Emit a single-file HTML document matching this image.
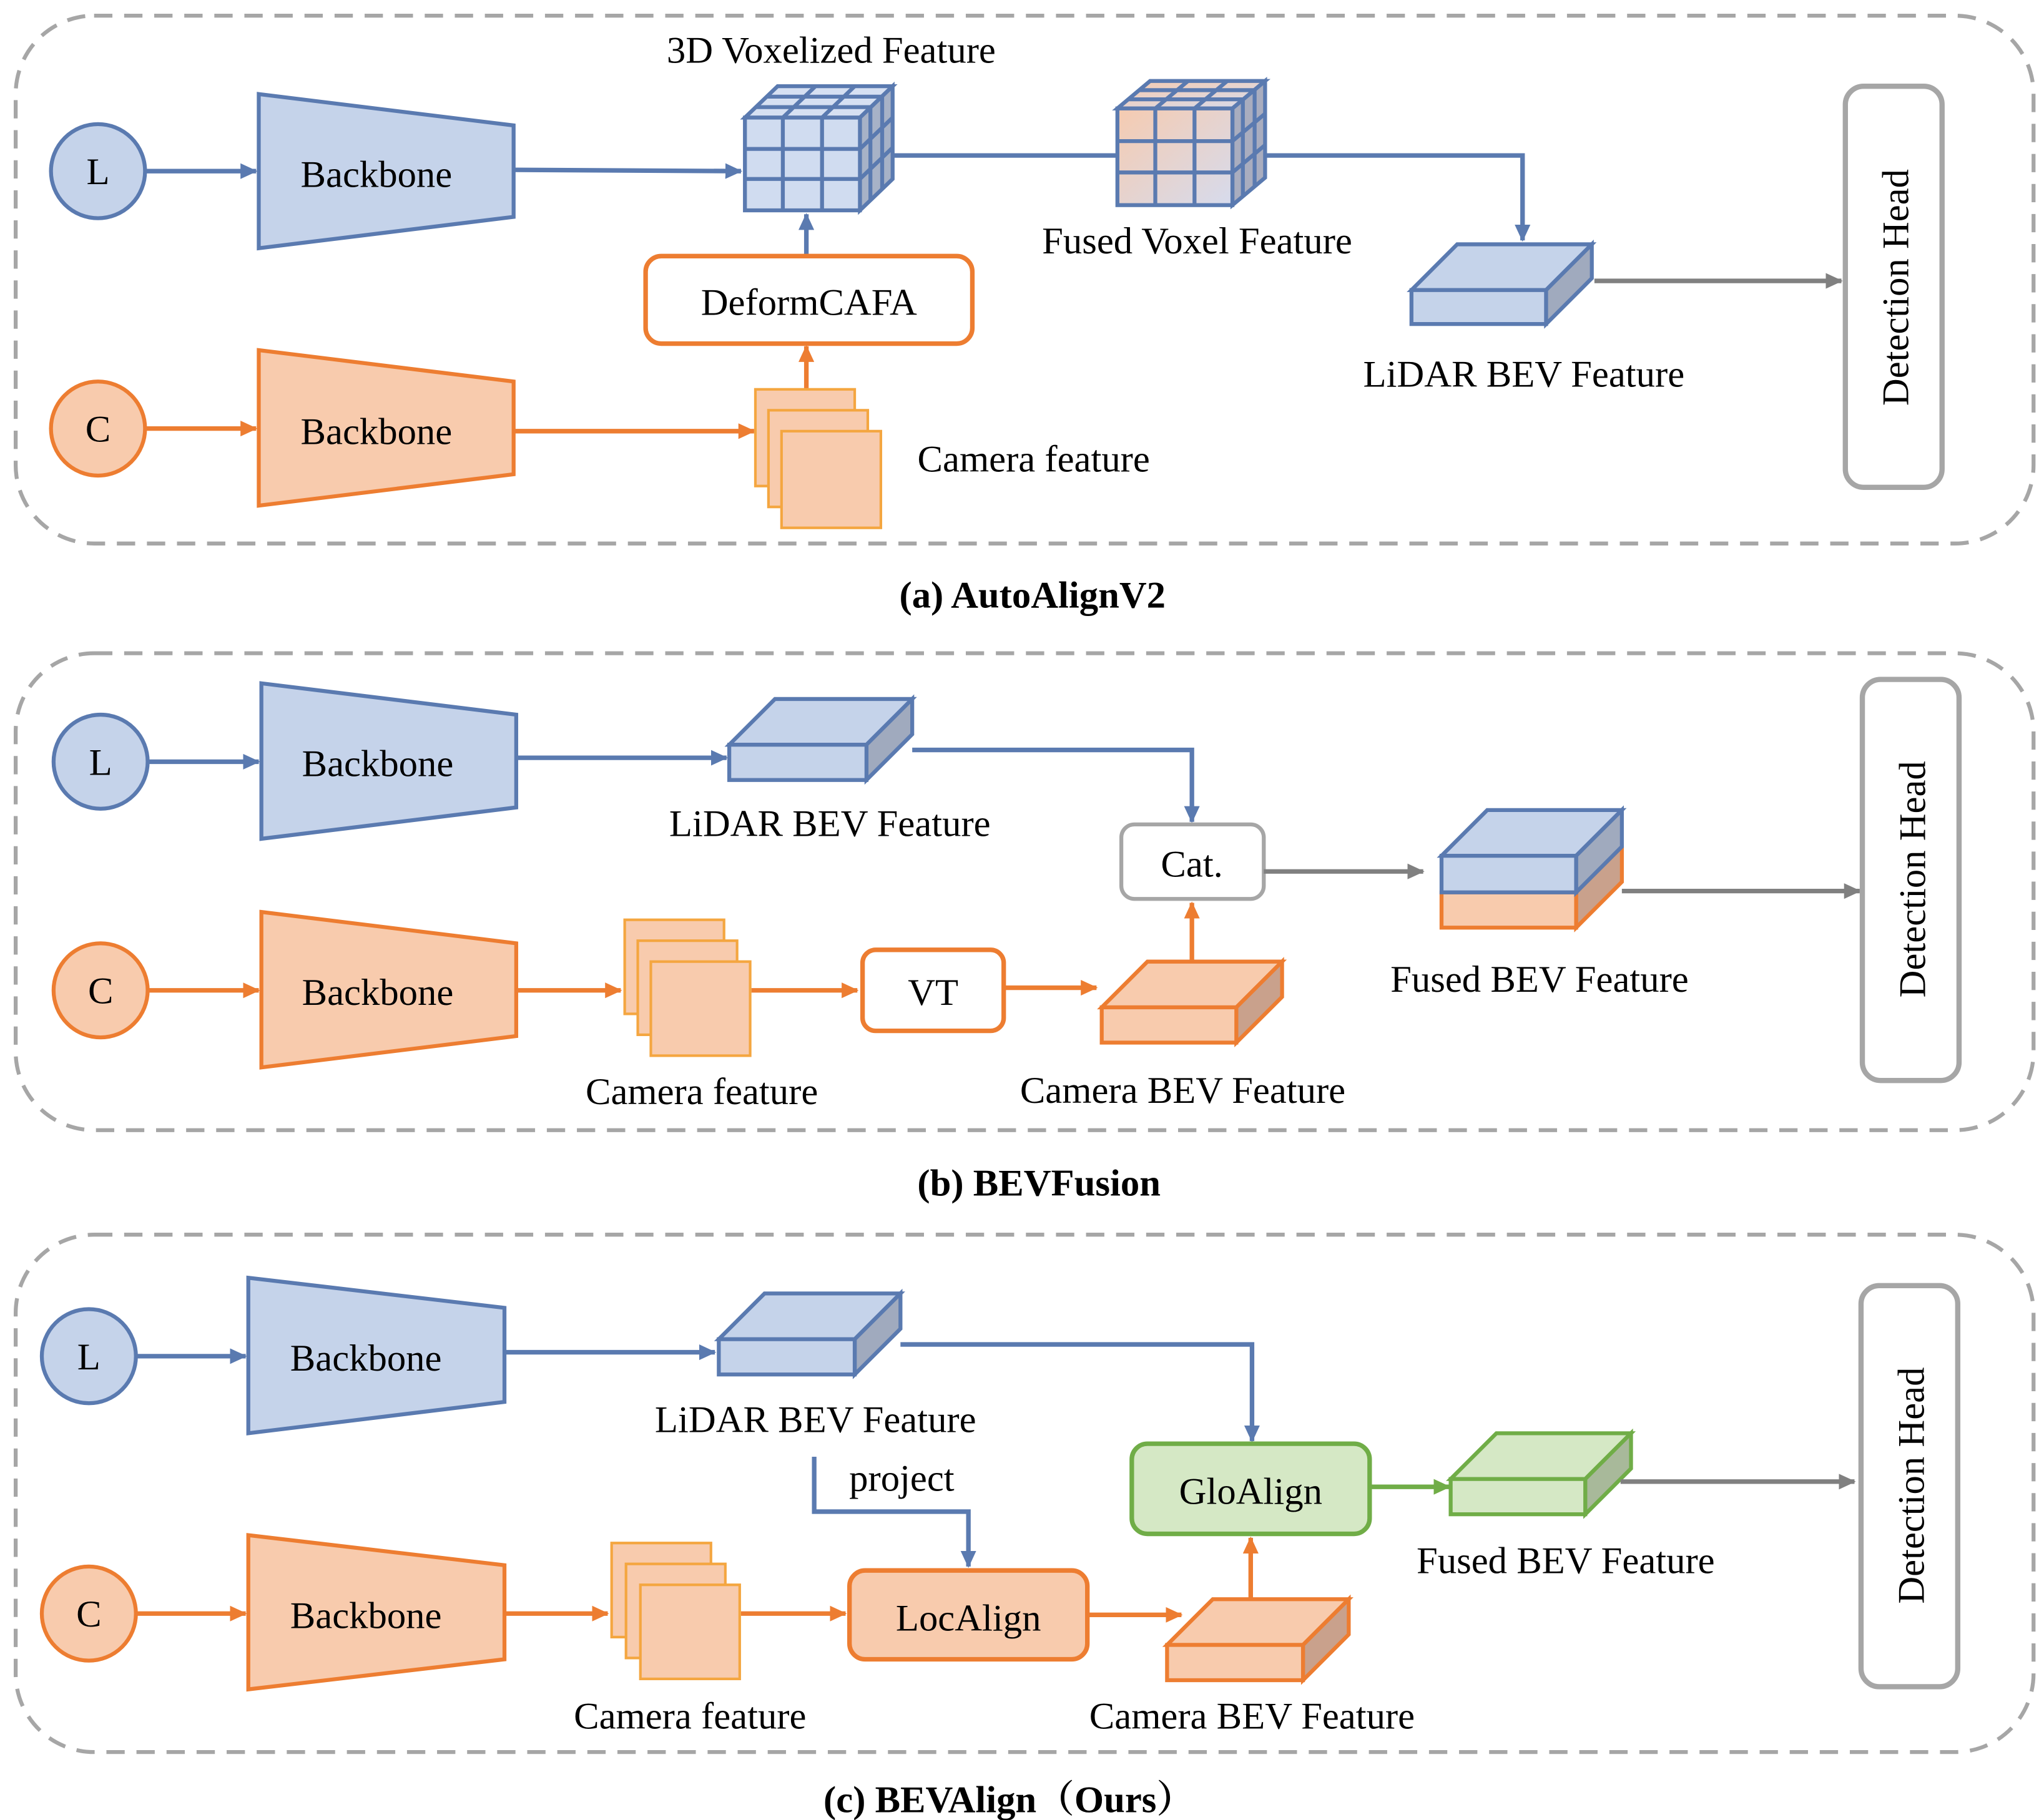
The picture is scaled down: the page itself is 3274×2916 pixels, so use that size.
<!DOCTYPE html>
<html><head><meta charset="utf-8"><style>
html,body{margin:0;padding:0;background:#fff;}
svg{display:block;}
</style></head><body>
<svg width="3274" height="2916" viewBox="0 0 1564 1393" preserveAspectRatio="none" xmlns="http://www.w3.org/2000/svg">
<defs>
<marker id="ab" markerWidth="13" markerHeight="12" refX="12" refY="6" orient="auto" markerUnits="userSpaceOnUse" viewBox="0 0 13 12"><path d="M0,0 L13,6 L0,12 z" fill="#5a7ab0"/></marker>
<marker id="ao" markerWidth="13" markerHeight="12" refX="12" refY="6" orient="auto" markerUnits="userSpaceOnUse" viewBox="0 0 13 12"><path d="M0,0 L13,6 L0,12 z" fill="#ed7d31"/></marker>
<marker id="ag" markerWidth="13" markerHeight="12" refX="12" refY="6" orient="auto" markerUnits="userSpaceOnUse" viewBox="0 0 13 12"><path d="M0,0 L13,6 L0,12 z" fill="#808080"/></marker>
<marker id="agr" markerWidth="13" markerHeight="12" refX="12" refY="6" orient="auto" markerUnits="userSpaceOnUse" viewBox="0 0 13 12"><path d="M0,0 L13,6 L0,12 z" fill="#70ad47"/></marker>
<linearGradient id="fg" x1="0" y1="0" x2="1" y2="1"><stop offset="0" stop-color="#f6cbb0"/><stop offset="1" stop-color="#d6dbed"/></linearGradient>
</defs>
<g fill="none" stroke="#a6a6a6" stroke-width="3" stroke-dasharray="14 9">
<rect x="12" y="12" width="1544" height="404" rx="60"/>
<rect x="12" y="500" width="1544" height="365" rx="60"/>
<rect x="12" y="945" width="1544" height="396" rx="60"/>
</g>
<g font-size="29" font-family="Liberation Serif, serif" fill="#000">
<!-- Panel a -->
<circle cx="75" cy="131" r="36" fill="#c5d3ea" stroke="#5a7ab0" stroke-width="3"/>
<text x="75" y="141" text-anchor="middle">L</text>
<line x1="111" y1="131" x2="196" y2="131" stroke="#5a7ab0" stroke-width="3.5" marker-end="url(#ab)"/>
<polygon points="198,72 393,96 393,166 198,190" fill="#c5d3ea" stroke="#5a7ab0" stroke-width="3"/>
<text x="288" y="143" text-anchor="middle">Backbone</text>
<line x1="393" y1="130" x2="567" y2="131" stroke="#5a7ab0" stroke-width="3.5" marker-end="url(#ab)"/>
<polyline points="683,119 1165,119 1165,184" fill="none" stroke="#5a7ab0" stroke-width="3.5" marker-end="url(#ab)"/>
<g stroke="#5a7ab0" stroke-width="3">
<polygon points="570,90 658,90 683,66 595,66" fill="#d6e0f2"/>
<polygon points="658,90 683,66 683,137 658,161" fill="#a7b2c7"/>
<rect x="570" y="90" width="88" height="71" fill="#d0dcf0"/>
<path d="M599,90 v71 M629,90 v71 M570,114 h88 M570,137 h88 M578,82 h88 M587,74 h88 M599,90 l25,-24 M629,90 l25,-24 M666,82 v71 M675,74 v71 M658,114 l25,-24 M658,137 l25,-24" fill="none"/>
</g>
<g stroke="#5a7ab0" stroke-width="3">
<polygon points="855,83 943,83 968,62 880,62" fill="url(#fg)"/>
<polygon points="943,83 968,62 968,136 943,157" fill="#a9adbf"/>
<rect x="855" y="83" width="88" height="74" fill="url(#fg)"/>
<path d="M884,83 v74 M914,83 v74 M855,108 h88 M855,132 h88 M863,76 h88 M872,69 h88 M884,83 l25,-21 M914,83 l25,-21 M951,76 v74 M960,69 v74 M943,108 l25,-21 M943,132 l25,-21" fill="none"/>
</g>
<text x="636" y="48" text-anchor="middle">3D Voxelized Feature</text>
<text x="916" y="194" text-anchor="middle">Fused Voxel Feature</text>
<line x1="617" y1="196" x2="617" y2="164" stroke="#5a7ab0" stroke-width="3.5" marker-end="url(#ab)"/>
<rect x="494" y="196" width="250" height="67" rx="12" fill="#fff" stroke="#ed7d31" stroke-width="3.5"/>
<text x="619" y="241" text-anchor="middle">DeformCAFA</text>
<circle cx="75" cy="328" r="36" fill="#f8cbad" stroke="#ed7d31" stroke-width="3"/>
<text x="75" y="338" text-anchor="middle">C</text>
<line x1="111" y1="328" x2="196" y2="328" stroke="#ed7d31" stroke-width="3.5" marker-end="url(#ao)"/>
<polygon points="198,268 393,292 393,363 198,387" fill="#f8cbad" stroke="#ed7d31" stroke-width="3"/>
<text x="288" y="340" text-anchor="middle">Backbone</text>
<line x1="393" y1="330" x2="577" y2="330" stroke="#ed7d31" stroke-width="3.5" marker-end="url(#ao)"/>
<line x1="617" y1="298" x2="617" y2="265" stroke="#ed7d31" stroke-width="3.5" marker-end="url(#ao)"/>
<g fill="#f8cbad" stroke="#f4a640" stroke-width="2">
<rect x="578" y="298" width="76" height="74"/><rect x="588" y="314" width="76" height="74"/><rect x="598" y="330" width="76" height="74"/>
</g>
<text x="702" y="361">Camera feature</text>
<g stroke="#5a7ab0" stroke-width="3">
<polygon points="1080,222 1115,187 1218,187 1183,222" fill="#c5d3ea"/>
<polygon points="1183,222 1218,187 1218,213 1183,248" fill="#a0aabe"/>
<rect x="1080" y="222" width="103" height="26" fill="#c5d3ea"/>
</g>
<text x="1166" y="296" text-anchor="middle">LiDAR BEV Feature</text>
<line x1="1220" y1="215" x2="1409" y2="215" stroke="#808080" stroke-width="3.5" marker-end="url(#ag)"/>
<rect x="1412" y="66" width="74" height="307" rx="14" fill="#fff" stroke="#a6a6a6" stroke-width="4"/>
<text transform="translate(1460,220) rotate(-90)" text-anchor="middle">Detection Head</text>
<text x="790" y="465" text-anchor="middle" font-weight="bold">(a)  AutoAlignV2</text>

<!-- Panel b -->
<circle cx="77" cy="583" r="36" fill="#c5d3ea" stroke="#5a7ab0" stroke-width="3"/>
<text x="77" y="593" text-anchor="middle">L</text>
<line x1="113" y1="583" x2="198" y2="583" stroke="#5a7ab0" stroke-width="3.5" marker-end="url(#ab)"/>
<polygon points="200,523 395,547 395,618 200,642" fill="#c5d3ea" stroke="#5a7ab0" stroke-width="3"/>
<text x="289" y="594" text-anchor="middle">Backbone</text>
<line x1="395" y1="580" x2="556" y2="580" stroke="#5a7ab0" stroke-width="3.5" marker-end="url(#ab)"/>
<g stroke="#5a7ab0" stroke-width="3">
<polygon points="558,570 593,535 698,535 663,570" fill="#c5d3ea"/>
<polygon points="663,570 698,535 698,562 663,597" fill="#a0aabe"/>
<rect x="558" y="570" width="105" height="27" fill="#c5d3ea"/>
</g>
<text x="635" y="640" text-anchor="middle">LiDAR BEV Feature</text>
<polyline points="698,574 912,574 912,629" fill="none" stroke="#5a7ab0" stroke-width="3.5" marker-end="url(#ab)"/>
<rect x="858" y="631" width="109" height="57" rx="10" fill="#fff" stroke="#a6a6a6" stroke-width="3"/>
<text x="912" y="671" text-anchor="middle">Cat.</text>
<line x1="967" y1="667" x2="1089" y2="667" stroke="#808080" stroke-width="3.5" marker-end="url(#ag)"/>
<g stroke-width="3">
<polygon points="1206,683 1241,648 1241,675 1206,710" fill="#c9a18c" stroke="#ed7d31"/>
<rect x="1103" y="683" width="103" height="27" fill="#f8cbad" stroke="#ed7d31"/>
<polygon points="1103,655 1138,620 1241,620 1206,655" fill="#c5d3ea" stroke="#5a7ab0"/>
<polygon points="1206,655 1241,620 1241,648 1206,683" fill="#a0aabe" stroke="#5a7ab0"/>
<rect x="1103" y="655" width="103" height="28" fill="#c5d3ea" stroke="#5a7ab0"/>
</g>
<text x="1178" y="759" text-anchor="middle">Fused BEV Feature</text>
<line x1="1241" y1="682" x2="1423" y2="682" stroke="#808080" stroke-width="3.5" marker-end="url(#ag)"/>
<rect x="1425" y="520" width="74" height="307" rx="14" fill="#fff" stroke="#a6a6a6" stroke-width="4"/>
<text transform="translate(1473,673) rotate(-90)" text-anchor="middle">Detection Head</text>
<circle cx="77" cy="758" r="36" fill="#f8cbad" stroke="#ed7d31" stroke-width="3"/>
<text x="77" y="768" text-anchor="middle">C</text>
<line x1="113" y1="758" x2="198" y2="758" stroke="#ed7d31" stroke-width="3.5" marker-end="url(#ao)"/>
<polygon points="200,698 395,722 395,793 200,817" fill="#f8cbad" stroke="#ed7d31" stroke-width="3"/>
<text x="289" y="769" text-anchor="middle">Backbone</text>
<line x1="395" y1="758" x2="475" y2="758" stroke="#ed7d31" stroke-width="3.5" marker-end="url(#ao)"/>
<g fill="#f8cbad" stroke="#f4a640" stroke-width="2">
<rect x="478" y="704" width="76" height="72"/><rect x="488" y="720" width="76" height="72"/><rect x="498" y="736" width="76" height="72"/>
</g>
<text x="537" y="845" text-anchor="middle">Camera feature</text>
<line x1="575" y1="758" x2="656" y2="758" stroke="#ed7d31" stroke-width="3.5" marker-end="url(#ao)"/>
<rect x="660" y="727" width="108" height="62" rx="10" fill="#fff" stroke="#ed7d31" stroke-width="3.5"/>
<text x="714" y="769" text-anchor="middle">VT</text>
<line x1="768" y1="756" x2="839" y2="756" stroke="#ed7d31" stroke-width="3.5" marker-end="url(#ao)"/>
<g stroke="#ed7d31" stroke-width="3">
<polygon points="843,771 878,736 981,736 946,771" fill="#f8cbad"/>
<polygon points="946,771 981,736 981,763 946,798" fill="#c9a18c"/>
<rect x="843" y="771" width="103" height="27" fill="#f8cbad"/>
</g>
<text x="905" y="844" text-anchor="middle">Camera BEV Feature</text>
<line x1="912" y1="736" x2="912" y2="691" stroke="#ed7d31" stroke-width="3.5" marker-end="url(#ao)"/>
<text x="795" y="915" text-anchor="middle" font-weight="bold">(b)  BEVFusion</text>

<!-- Panel c -->
<circle cx="68" cy="1038" r="36" fill="#c5d3ea" stroke="#5a7ab0" stroke-width="3"/>
<text x="68" y="1048" text-anchor="middle">L</text>
<line x1="104" y1="1038" x2="188" y2="1038" stroke="#5a7ab0" stroke-width="3.5" marker-end="url(#ab)"/>
<polygon points="190,978 386,1001 386,1073 190,1097" fill="#c5d3ea" stroke="#5a7ab0" stroke-width="3"/>
<text x="280" y="1049" text-anchor="middle">Backbone</text>
<line x1="386" y1="1035" x2="547" y2="1035" stroke="#5a7ab0" stroke-width="3.5" marker-end="url(#ab)"/>
<g stroke="#5a7ab0" stroke-width="3">
<polygon points="550,1025 585,990 689,990 654,1025" fill="#c5d3ea"/>
<polygon points="654,1025 689,990 689,1017 654,1052" fill="#a0aabe"/>
<rect x="550" y="1025" width="104" height="27" fill="#c5d3ea"/>
</g>
<text x="624" y="1096" text-anchor="middle">LiDAR BEV Feature</text>
<polyline points="689,1029 958,1029 958,1103" fill="none" stroke="#5a7ab0" stroke-width="3.5" marker-end="url(#ab)"/>
<polyline points="623,1115 623,1157 741,1157 741,1199" fill="none" stroke="#5a7ab0" stroke-width="3.5" marker-end="url(#ab)"/>
<text x="690" y="1141" text-anchor="middle">project</text>
<rect x="866" y="1105" width="182" height="69" rx="12" fill="#d5e8c5" stroke="#70ad47" stroke-width="3.5"/>
<text x="957" y="1151" text-anchor="middle">GloAlign</text>
<line x1="1048" y1="1138" x2="1109" y2="1138" stroke="#70ad47" stroke-width="3.5" marker-end="url(#agr)"/>
<g stroke="#70ad47" stroke-width="3">
<polygon points="1110,1132 1145,1097 1248,1097 1213,1132" fill="#d5e8c5"/>
<polygon points="1213,1132 1248,1097 1248,1124 1213,1159" fill="#a8b99a"/>
<rect x="1110" y="1132" width="103" height="27" fill="#d5e8c5"/>
</g>
<text x="1198" y="1204" text-anchor="middle">Fused BEV Feature</text>
<line x1="1240" y1="1134" x2="1419" y2="1134" stroke="#808080" stroke-width="3.5" marker-end="url(#ag)"/>
<rect x="1424" y="984" width="74" height="307" rx="14" fill="#fff" stroke="#a6a6a6" stroke-width="4"/>
<text transform="translate(1472,1137) rotate(-90)" text-anchor="middle">Detection Head</text>
<circle cx="68" cy="1235" r="36" fill="#f8cbad" stroke="#ed7d31" stroke-width="3"/>
<text x="68" y="1245" text-anchor="middle">C</text>
<line x1="104" y1="1235" x2="188" y2="1235" stroke="#ed7d31" stroke-width="3.5" marker-end="url(#ao)"/>
<polygon points="190,1175 386,1198 386,1270 190,1293" fill="#f8cbad" stroke="#ed7d31" stroke-width="3"/>
<text x="280" y="1246" text-anchor="middle">Backbone</text>
<line x1="386" y1="1235" x2="465" y2="1235" stroke="#ed7d31" stroke-width="3.5" marker-end="url(#ao)"/>
<g fill="#f8cbad" stroke="#f4a640" stroke-width="2">
<rect x="468" y="1181" width="76" height="72"/><rect x="479" y="1197" width="76" height="72"/><rect x="490" y="1213" width="76" height="72"/>
</g>
<text x="528" y="1323" text-anchor="middle">Camera feature</text>
<line x1="567" y1="1235" x2="647" y2="1235" stroke="#ed7d31" stroke-width="3.5" marker-end="url(#ao)"/>
<rect x="650" y="1202" width="182" height="68" rx="12" fill="#f8cbad" stroke="#ed7d31" stroke-width="3.5"/>
<text x="741" y="1248" text-anchor="middle">LocAlign</text>
<line x1="832" y1="1236" x2="904" y2="1236" stroke="#ed7d31" stroke-width="3.5" marker-end="url(#ao)"/>
<g stroke="#ed7d31" stroke-width="3">
<polygon points="893,1259 928,1224 1032,1224 997,1259" fill="#f8cbad"/>
<polygon points="997,1259 1032,1224 1032,1251 997,1286" fill="#c9a18c"/>
<rect x="893" y="1259" width="104" height="27" fill="#f8cbad"/>
</g>
<text x="958" y="1323" text-anchor="middle">Camera BEV Feature</text>
<line x1="957" y1="1224" x2="957" y2="1177" stroke="#ed7d31" stroke-width="3.5" marker-end="url(#ao)"/>
<text x="772" y="1387" text-anchor="middle" font-weight="bold" font-family="Liberation Serif, Noto Serif CJK SC, serif">(c)  BEVAlign（Ours）</text>
</g>
</svg>
</body></html>
